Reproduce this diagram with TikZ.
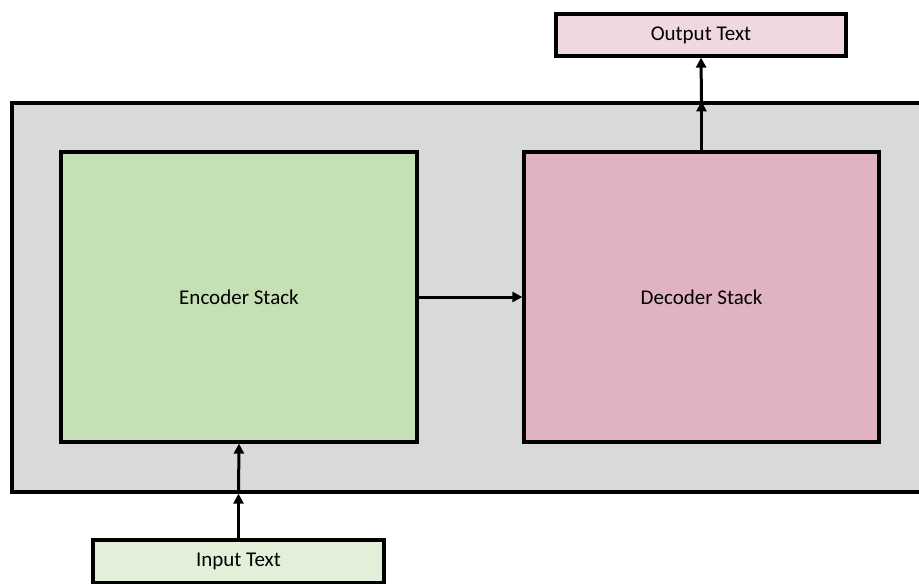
\documentclass[tikz,border=0pt]{standalone}
\usepackage{fontspec}
\setmainfont{Carlito}
\usetikzlibrary{arrows.meta}

\definecolor{framegray}{HTML}{D9D9D9}
\definecolor{encgreen}{HTML}{C5E0B4}
\definecolor{decpink}{HTML}{E0B2C4}
\definecolor{inlight}{HTML}{E2F0D9}
\definecolor{outlight}{HTML}{F0D8E2}

\tikzset{
  blockbox/.style={draw=black, line width=3.2pt, rectangle, inner sep=0pt,
    font=\fontsize{21}{25}\selectfont},
  flow/.style={line width=3pt, -{Triangle[length=10pt,width=10pt]}},
}

\begin{document}
\begin{tikzpicture}[x=1pt, y=-1pt]
  \useasboundingbox (0,0) rectangle (919,584);
  \clip (0,0) rectangle (919,584);

  % surrounding model frame
  \node[blockbox, fill=framegray, minimum width=925pt, minimum height=389pt]
    (frame) at (474.5,297.5) {};

  % encoder and decoder stacks
  \node[blockbox, fill=encgreen, minimum width=356pt, minimum height=290pt]
    (enc) at (239,297) {Encoder Stack};
  \node[blockbox, fill=decpink, minimum width=355pt, minimum height=290pt]
    (dec) at (701.5,297) {Decoder Stack};

  % input and output text
  \node[blockbox, fill=inlight, minimum width=291pt, minimum height=43pt]
    (in) at (238.5,561.5) {Input Text};
  \node[blockbox, fill=outlight, minimum width=290pt, minimum height=42pt]
    (out) at (701,35) {Output Text};

  % points where the flow crosses the frame
  \coordinate (fin) at (in.north |- frame.south);
  \coordinate (fout) at (dec.north |- frame.north);

  \draw[flow] (in.north) -- (fin);
  \draw[flow] (fin) -- (enc.south);
  \draw[flow] (enc.east) -- (dec.west);
  \draw[flow] (dec.north) -- (fout);
  \draw[flow] (fout) -- (out.south);
\end{tikzpicture}
\end{document}
